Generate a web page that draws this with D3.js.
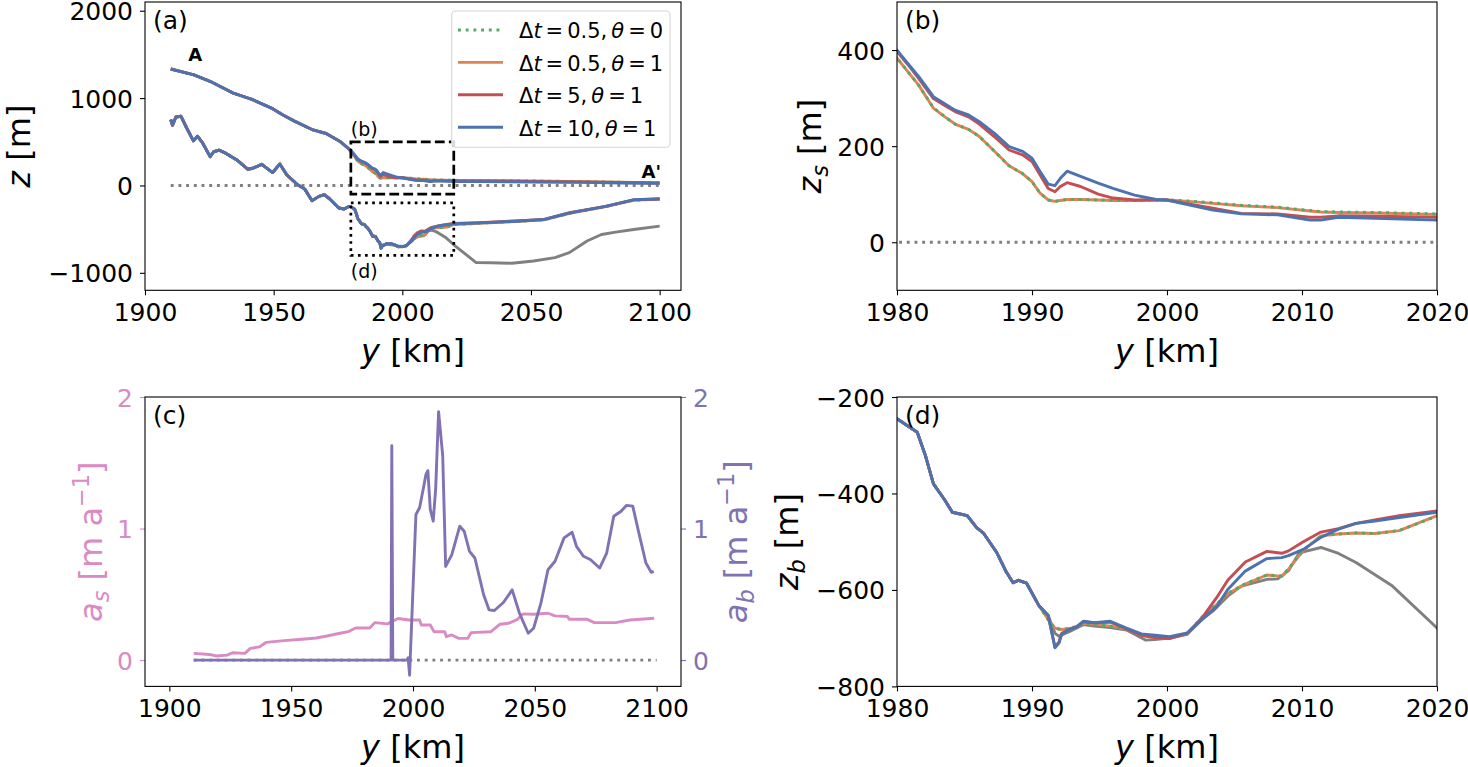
<!DOCTYPE html>
<html><head><meta charset="utf-8">
<script src="https://cdn.jsdelivr.net/npm/d3@7"></script>
<style>
body{margin:0;background:#fff;}
svg{display:block;font-family:"DejaVu Sans",sans-serif;}
</style></head><body>
<svg id="c" width="1468" height="767"></svg>
<script>
// ---------------- DATA ----------------
// shared upstream profile (all runs identical), y in km
const ySurfUp = [1910, 1919, 1926, 1934.3, 1941.3, 1949.6, 1953.8, 1957.9, 1964.9, 1970.4, 1976, 1979];
const zsUp    = [1333, 1265, 1182, 1057, 989, 879, 803, 739, 640, 595, 500, 425];
const yBedUp  = [1910, 1910.7, 1912, 1914, 1916.3, 1918.8, 1920.4, 1922.5, 1925.3, 1926.7, 1928.8, 1931.5, 1935.7, 1939.9, 1941.9, 1945.4, 1949.6, 1952.4, 1955.1, 1959.3, 1962.1, 1964.9, 1967.6, 1969.7, 1971.8, 1975.3, 1977.4, 1979.2];
const zbUp    = [754, 689, 784, 792, 652, 511, 564, 481, 330, 386, 405, 367, 292, 186, 197, 242, 148, 246, 121, 8, -42, -174, -125, -106, -155, -258, -269, -240];

// surface elevation z_s downstream of 1980 km
const ySurf = [1980, 1980.8, 1981.6, 1982.7, 1983.5, 1984.3, 1985.3, 1986.1, 1987.2, 1988.3, 1989.3, 1990, 1990.6, 1991.2, 1991.7, 1992.1, 1992.6, 1993.6, 1994.9, 1996, 1997.6, 1999.2, 2000, 2001.6, 2003.4, 2005.5, 2008.2, 2010.6, 2011.4, 2012.7, 2015.4, 2020, 2030, 2050, 2070, 2085, 2100];
const zsGreen  = [384, 355, 327, 280, 262, 246, 235, 220, 190, 159, 143, 126, 102, 88, 85, 87, 89, 89, 88, 87, 87, 88, 88, 86, 82, 77, 73, 66, 64, 63, 62, 59, 57, 52, 44, 36, 29];
const zsOrange = [383, 355, 327, 279, 262, 246, 235, 220, 190, 159, 143, 126, 102, 88, 85, 87, 89, 89, 88, 87, 87, 88, 88, 85, 81, 76, 72, 65, 63, 62, 61, 58, 56, 52, 44, 36, 29];
const zsRed    = [397, 370, 341, 299, 285, 272, 261, 246, 220, 192, 182, 168, 140, 112, 105, 116, 124, 116, 100, 92, 88, 88, 88, 80, 71, 60, 59, 52, 52, 55, 54, 52, 50, 46, 40, 34, 28];
const zsBlue   = [400, 372, 345, 303, 289, 275, 265, 251, 227, 199, 189, 175, 147, 121, 118, 133, 148, 137, 123, 112, 98, 89, 88, 78, 67, 59, 57, 46, 46, 52, 50, 46, 44, 40, 35, 29, 25];

// bed elevation z_b downstream of 1980 km
const yBed = [1980, 1981.5, 1982.1, 1982.7, 1983.5, 1984.1, 1985.2, 1985.9, 1986.4, 1987.4, 1988.1, 1988.6, 1989, 1989.6, 1990.5, 1991.2, 1991.7, 1992, 1992.2, 1992.8, 1993.3, 1993.8, 1994.6, 1995.8, 1997, 1998.1, 1999.1, 2000.2, 2001.5, 2002.6, 2003.7, 2004.5, 2005.8, 2007.4, 2008.5, 2009, 2010.1, 2011.4, 2012.7, 2014, 2015.4, 2017.2, 2020, 2030, 2044, 2055, 2065, 2079, 2090, 2100];
const zbBlue   = [-245, -273, -321, -380, -412, -439, -446, -471, -482, -523, -563, -585, -580, -586, -632, -653, -720, -710, -692, -682, -677, -665, -668, -665, -679, -691, -694, -697, -689, -661, -634, -599, -561, -535, -533, -529, -516, -491, -474, -462, -457, -450, -439, -428, -409, -390, -314, -239, -163, -152];
const zbRed    = [-245, -273, -321, -380, -412, -439, -446, -471, -482, -523, -563, -585, -580, -586, -632, -653, -718, -708, -690, -681, -676, -666, -668, -667, -681, -694, -699, -701, -690, -658, -615, -580, -542, -520, -524, -519, -500, -480, -473, -462, -455, -446, -436, -425, -406, -388, -312, -240, -165, -155];
const zbOrange = [-245, -273, -321, -380, -412, -439, -446, -471, -482, -523, -563, -585, -580, -586, -632, -661, -679, -681, -682, -680, -676, -669, -671, -675, -681, -694, -699, -699, -691, -657, -630, -608, -588, -569, -572, -557, -518, -488, -484, -482, -483, -477, -446, -432, -412, -393, -318, -243, -168, -158];
const zbGreen  = [-245, -273, -321, -380, -412, -439, -446, -471, -482, -523, -563, -585, -580, -586, -632, -662, -680, -681, -682, -680, -676, -669, -671, -675, -681, -694, -699, -699, -691, -656, -629, -607, -587, -569, -571, -556, -518, -488, -484, -482, -483, -477, -447, -432, -412, -393, -318, -243, -168, -158];
// observed (grey) bed, diverging from 1991.2 km
const yGrey  = [1991.2, 1991.7, 1992, 1992.8, 1993.8, 1994.6, 1995.8, 1997, 1998.4, 1999.1, 2000.2, 2001.5, 2002.6, 2003.4, 2004.5, 2005.5, 2007.4, 2008.2, 2009, 2009.8, 2011.4, 2012.6, 2014, 2016.7, 2020, 2028.7, 2034.3, 2042.6, 2051, 2059.3, 2064.9, 2071.8, 2077.4, 2082.9, 2089.9, 2100];
const zbGrey = [-653, -690, -696, -686, -672, -675, -678, -683, -704, -703, -700, -692, -661, -644, -613, -592, -578, -577, -560, -523, -512, -523, -543, -592, -679, -883, -885, -890, -864, -826, -769, -636, -561, -534, -504, -465];

// panel (c): surface and basal accumulation
const yAs = [1910, 1916.4, 1919.3, 1923.7, 1925.9, 1931, 1933.2, 1936.9, 1939.8, 1947.1, 1954.4, 1960.3, 1964.7, 1969, 1973.4, 1976.4, 1982.2, 1984.4, 1989.5, 1993.9, 1998.3, 2002.7, 2003.4, 2007.1, 2008.6, 2013, 2013.7, 2015.9, 2018.8, 2022.5, 2023.9, 2032, 2035.6, 2039.3, 2042.9, 2045.1, 2049.5, 2055.4, 2058.3, 2063.4, 2064.2, 2071.5, 2074.4, 2083.2, 2089, 2093.4, 2099];
const asVals = [0.051, 0.043, 0.031, 0.038, 0.056, 0.051, 0.089, 0.1, 0.135, 0.148, 0.158, 0.168, 0.183, 0.2, 0.216, 0.244, 0.244, 0.285, 0.275, 0.316, 0.305, 0.305, 0.267, 0.267, 0.216, 0.216, 0.178, 0.191, 0.165, 0.165, 0.209, 0.216, 0.272, 0.28, 0.31, 0.351, 0.349, 0.356, 0.336, 0.331, 0.31, 0.31, 0.285, 0.285, 0.305, 0.31, 0.318];
const yAb = [1910, 1991, 1991.3, 1991.7, 1997.5, 1998, 1998.6, 2001.2, 2002.7, 2004.2, 2005.3, 2006.1, 2007.1, 2008.3, 2009.3, 2010.5, 2012.2, 2013.4, 2015.9, 2019.2, 2021, 2023.2, 2025.4, 2029, 2031.2, 2033.4, 2037.1, 2040.7, 2043.7, 2047.3, 2049.5, 2052.5, 2055.4, 2058.3, 2062, 2065.3, 2067.1, 2070, 2072.9, 2076.6, 2079.5, 2082.4, 2085.4, 2087.6, 2090.2, 2092.7, 2095.6, 2097.8, 2098.8];
const abVals = [0, 0, 1.63, 0, 0, 0.018, -0.115, 1.107, 1.158, 1.3, 1.41, 1.44, 1.145, 1.056, 1.3, 1.888, 1.552, 0.712, 0.8, 1.018, 0.98, 0.827, 0.776, 0.496, 0.382, 0.377, 0.438, 0.534, 0.356, 0.204, 0.242, 0.433, 0.687, 0.751, 0.929, 0.972, 0.865, 0.789, 0.763, 0.7, 0.814, 1.094, 1.132, 1.176, 1.17, 0.967, 0.738, 0.667, 0.674];

// reference zero line and zoom boxes
const yZero = [1910, 2100];
const boxB = {x: [1980, 2020], z: [-100, 500]};
const boxD = {x: [1980, 2020], z: [-800, -200]};

// ticks
const xTicksFull = [1900, 1950, 2000, 2050, 2100];
const xTicksZoom = [1980, 1990, 2000, 2010, 2020];
const yTicksA = [-1000, 0, 1000, 2000];
const yTicksB = [0, 200, 400];
const yTicksC = [0, 1, 2];
const yTicksD = [-800, -600, -400, -200];

// legend labels
const legDt = ['0.5', '0.5', '5', '10'];
const legTheta = ['0', '1', '1', '1'];

// ---------------- DRAWING ----------------
const C = {green:'#55a868', orange:'#dd8452', red:'#c44e52', blue:'#4c72b0', grey:'#808080', pink:'#da8bc3', purple:'#8172b3'};
const LW = 2.9;
const DOT = '2.9,4.8';
const svg = d3.select('#c');
svg.append('rect').attr('width',1468).attr('height',767).attr('fill','#fff');
const zip = (xs, vs) => xs.map((v, i) => [v, vs[i]]);

function makePanel(name, L, R, T, B, xd, yd) {
  const x = d3.scaleLinear().domain(xd).range([L, R]);
  const y = d3.scaleLinear().domain(yd).range([B, T]);
  const id = 'clip-' + name;
  svg.append('clipPath').attr('id', id).append('rect')
    .attr('x', L).attr('y', T).attr('width', R - L).attr('height', B - T);
  const g = svg.append('g');
  const plot = g.append('g').attr('clip-path', `url(#${id})`);
  return {name, L, R, T, B, x, y, g, plot};
}

function styleAxis(ax, color) {
  ax.select('.domain').remove();
  ax.attr('font-family', '"DejaVu Sans", sans-serif').attr('font-size', 25);
  ax.selectAll('.tick line').attr('stroke', color).attr('stroke-width', 1.1);
  ax.selectAll('.tick text').attr('fill', color);
}

function axes(p, xt, yt, yColor) {
  const ax = p.g.append('g').attr('transform', `translate(0,${p.B})`)
    .call(d3.axisBottom(p.x).tickValues(xt).tickFormat(d3.format('d')).tickSize(5).tickPadding(8.3).tickSizeOuter(0));
  styleAxis(ax, '#000');
  const ay = p.g.append('g').attr('transform', `translate(${p.L},0)`)
    .call(d3.axisLeft(p.y).tickValues(yt).tickFormat(d3.format('d')).tickSize(5).tickPadding(7).tickSizeOuter(0));
  styleAxis(ay, yColor || '#000');
  ay.selectAll('.tick text').attr('dy', '0.36em');
}

function frame(p) {
  p.g.append('rect').attr('x', p.L).attr('y', p.T).attr('width', p.R - p.L).attr('height', p.B - p.T)
    .attr('fill', 'none').attr('stroke', '#000').attr('stroke-width', 1.1);
}

function line(p, pts, color, dash, lw) {
  const gen = d3.line().x(d => p.x(d[0])).y(d => p.y(d[1]));
  p.plot.append('path').attr('d', gen(pts)).attr('fill', 'none').attr('stroke', color)
    .attr('stroke-width', lw || LW).attr('stroke-linejoin', 'round')
    .attr('stroke-dasharray', dash || null);
}

function panelLetter(p, s) {
  p.g.append('text').attr('x', p.L + 8).attr('y', p.T + 27).attr('font-size', 25).text(s);
}

// math-like label: parts = [[text, style]] style: i=italic, sub, sup
function mathText(sel, parts, fs) {
  let shift = 0;
  parts.forEach(([t, st]) => {
    const ts = sel.append('tspan').text(t);
    let target = 0;
    if (st && st.includes('sub')) target = 0.22 * fs;
    if (st && st.includes('sup')) target = -0.4 * fs;
    ts.attr('dy', target - shift); shift = target;
    if (st && (st.includes('sub') || st.includes('sup'))) ts.attr('font-size', fs * 0.7);
    if (st && st.includes('i')) ts.attr('font-style', 'italic');
  });
}

function xLabel(p) {
  const t = p.g.append('text').attr('x', (p.L + p.R) / 2).attr('y', p.B + 72)
    .attr('text-anchor', 'middle').attr('font-size', 32);
  mathText(t, [['y', 'i'], [' [km]', '']], 32);
}
function yLabel(p, xb, parts, color) {
  const yc = (p.T + p.B) / 2;
  const t = p.g.append('text').attr('transform', `translate(${xb},${yc}) rotate(-90)`)
    .attr('text-anchor', 'middle').attr('font-size', 32).attr('fill', color || '#000');
  mathText(t, parts, 32);
}

// drawing order: orange, green (dotted over orange), red, blue on top
const series = [
  {key:'orange', zs: zsOrange, zb: zbOrange, dash: null},
  {key:'green', zs: zsGreen, zb: zbGreen, dash: DOT},
  {key:'red', zs: zsRed, zb: zbRed, dash: null},
  {key:'blue', zs: zsBlue, zb: zbBlue, dash: null}
];
const surfOf = s => zip(ySurfUp, zsUp).concat(zip(ySurf, s.zs));
const bedOf = s => zip(yBedUp, zbUp).concat(zip(yBed, s.zb));
const greyBed = zip(yBedUp, zbUp).concat(zip(yBed.slice(0, 16), zbBlue.slice(0, 16))).concat(zip(yGrey.slice(1), zbGrey.slice(1)));
const zeroLine = yZero.map(v => [v, 0]);

// ---- panel (a)
const pa = makePanel('a', 145, 681, 2, 290.3, [1900, 2108.3], [-1200, 2100]);
line(pa, zeroLine, C.grey, DOT);
line(pa, greyBed, C.grey);
series.forEach(s => { line(pa, bedOf(s), C[s.key], s.dash); line(pa, surfOf(s), C[s.key], s.dash); });
// zoom boxes
pa.g.append('rect').attr('x', pa.x(boxB.x[0])).attr('y', pa.y(boxB.z[1]))
  .attr('width', pa.x(boxB.x[1]) - pa.x(boxB.x[0])).attr('height', pa.y(boxB.z[0]) - pa.y(boxB.z[1]))
  .attr('fill', 'none').attr('stroke', '#000').attr('stroke-width', 2.7).attr('stroke-dasharray', '9.8,4.2');
pa.g.append('rect').attr('x', pa.x(boxD.x[0])).attr('y', pa.y(boxD.z[1]))
  .attr('width', pa.x(boxD.x[1]) - pa.x(boxD.x[0])).attr('height', pa.y(boxD.z[0]) - pa.y(boxD.z[1]))
  .attr('fill', 'none').attr('stroke', '#000').attr('stroke-width', 2.7).attr('stroke-dasharray', '2.7,4.4');
pa.g.append('text').attr('x', pa.x(1980)).attr('y', pa.y(563)).attr('font-size', 19).text('(b)');
pa.g.append('text').attr('x', pa.x(1980)).attr('y', pa.y(-1054)).attr('font-size', 19).text('(d)');
pa.g.append('text').attr('x', pa.x(1916.8)).attr('y', pa.y(1424)).attr('font-size', 18).attr('font-weight', 'bold').text('A');
pa.g.append('text').attr('x', pa.x(2100.5)).attr('y', pa.y(88)).attr('font-size', 18).attr('font-weight', 'bold').attr('text-anchor', 'end').text("A'");
axes(pa, xTicksFull, yTicksA);
frame(pa);
panelLetter(pa, '(a)');
xLabel(pa);
yLabel(pa, 30, [['z', 'i'], [' [m]', '']]);

// legend
const leg = pa.g.append('g');
leg.append('rect').attr('x', 451.7).attr('y', 11).attr('width', 218.3).attr('height', 136.3).attr('rx', 4)
  .attr('fill', '#fff').attr('fill-opacity', 0.85).attr('stroke', '#d5d5d5').attr('stroke-width', 1.1);
const legColors = [C.green, C.orange, C.red, C.blue];
legDt.forEach((dt, i) => {
  const cy = 30 + i * 32.4;
  leg.append('line').attr('x1', 458).attr('x2', 503).attr('y1', cy).attr('y2', cy)
    .attr('stroke', legColors[i]).attr('stroke-width', LW).attr('stroke-dasharray', i === 0 ? DOT : null);
  const t = leg.append('text').attr('x', 519).attr('y', cy + 8.3).attr('font-size', 21);
  t.append('tspan').text('Δ');
  t.append('tspan').attr('font-style', 'italic').text('t');
  t.append('tspan').attr('dx', 4).text('=');
  t.append('tspan').attr('dx', 4).text(dt + ',');
  t.append('tspan').attr('dx', 4).attr('font-style', 'italic').text('θ');
  t.append('tspan').attr('dx', 4).text('=');
  t.append('tspan').attr('dx', 4).text(legTheta[i]);
});

// ---- panel (b)
const pb = makePanel('b', 897, 1437, 2, 290.3, [1980, 2020], [-100, 500]);
line(pb, zeroLine, C.grey, DOT);
series.forEach(s => line(pb, surfOf(s), C[s.key], s.dash));
axes(pb, xTicksZoom, yTicksB);
frame(pb);
panelLetter(pb, '(b)');
xLabel(pb);
yLabel(pb, 821, [['z', 'i'], ['s', 'i sub'], [' [m]', '']]);

// ---- panel (c)
const pc = makePanel('c', 145, 681, 397, 686.4, [1890, 2110], [-0.2, 2]);
line(pc, zeroLine, C.grey, DOT);
line(pc, zip(yAs, asVals), C.pink);
line(pc, zip(yAb, abVals), C.purple);
axes(pc, xTicksFull, yTicksC, C.pink);
const ayr = pc.g.append('g').attr('transform', `translate(${pc.R},0)`)
  .call(d3.axisRight(pc.y).tickValues(yTicksC).tickFormat(d3.format('d')).tickSize(5).tickPadding(7).tickSizeOuter(0));
styleAxis(ayr, C.purple);
ayr.selectAll('.tick text').attr('dy', '0.36em');
frame(pc);
panelLetter(pc, '(c)');
xLabel(pc);
yLabel(pc, 102, [['a', 'i'], ['s', 'i sub'], [' [m a', ''], ['−1', 'sup'], [']', '']], C.pink);
yLabel(pc, 747, [['a', 'i'], ['b', 'i sub'], [' [m a', ''], ['−1', 'sup'], [']', '']], C.purple);

// ---- panel (d)
const pd = makePanel('d', 897, 1437, 397, 686.4, [1980, 2020], [-800, -200]);
line(pd, greyBed, C.grey);
series.forEach(s => line(pd, bedOf(s), C[s.key], s.dash));
axes(pd, xTicksZoom, yTicksD);
frame(pd);
panelLetter(pd, '(d)');
xLabel(pd);
yLabel(pd, 798, [['z', 'i'], ['b', 'i sub'], [' [m]', '']]);
</script>
</body></html>
